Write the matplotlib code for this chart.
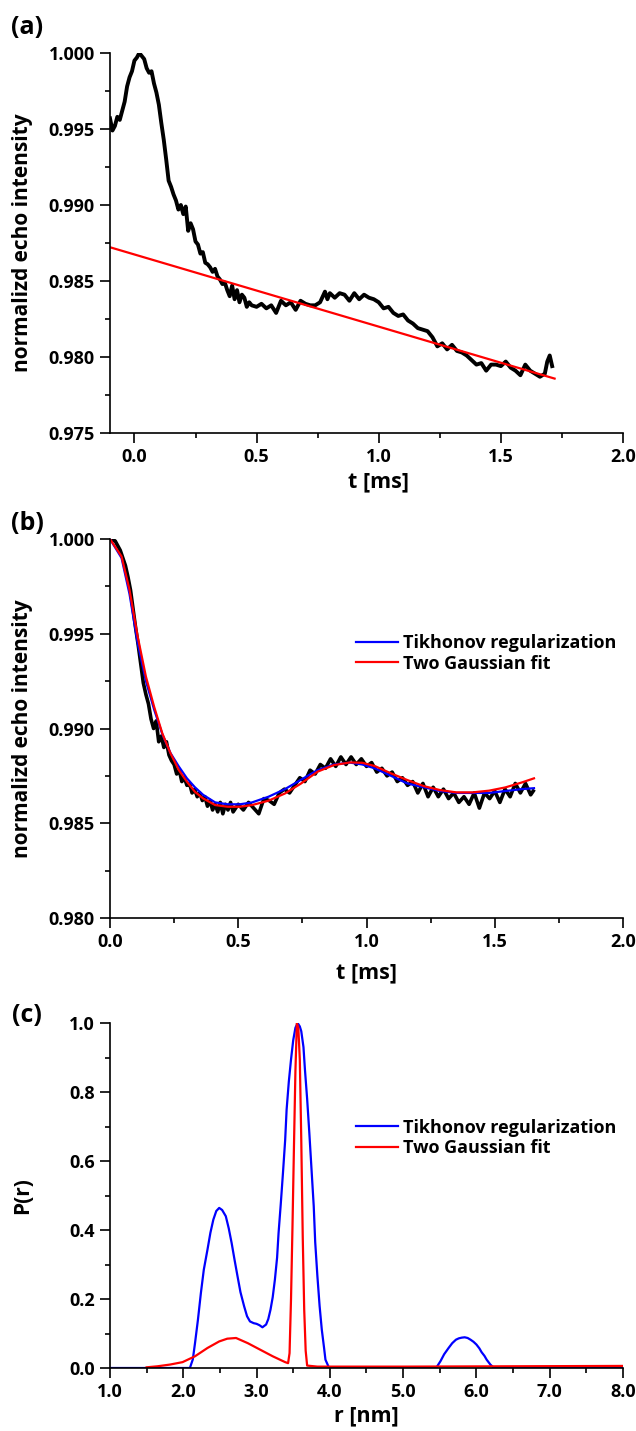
import matplotlib
matplotlib.use("Agg")
import matplotlib.pyplot as plt
from matplotlib.ticker import MultipleLocator, FormatStrFormatter

plt.rcParams['font.family'] = ['Open Sans', 'DejaVu Sans']
plt.rcParams['font.weight'] = 'bold'
plt.rcParams['axes.labelweight'] = 'bold'

# (a) raw echo data and background line
t_a = [-0.10, -0.09, -0.08, -0.07, -0.06, -0.05, -0.04, -0.03, -0.02, -0.01,
       0.00, 0.01, 0.02, 0.03, 0.04, 0.05, 0.06, 0.07, 0.08, 0.09,
       0.10, 0.11, 0.12, 0.13, 0.14, 0.15, 0.16, 0.17, 0.18, 0.19,
       0.20, 0.21, 0.22, 0.23, 0.24, 0.25, 0.26, 0.27, 0.28, 0.29,
       0.30, 0.31, 0.32, 0.33, 0.34, 0.35, 0.36, 0.37, 0.38, 0.39,
       0.40, 0.41, 0.42, 0.43, 0.44, 0.45, 0.46, 0.47, 0.48, 0.50,
       0.52, 0.54, 0.56, 0.58, 0.60, 0.62, 0.64, 0.66, 0.68, 0.70,
       0.72, 0.74, 0.76, 0.78, 0.79, 0.80, 0.82, 0.84, 0.86, 0.88,
       0.90, 0.92, 0.94, 0.96, 0.98, 1.00, 1.02, 1.04, 1.06, 1.08,
       1.10, 1.12, 1.14, 1.16, 1.18, 1.20, 1.22, 1.24, 1.26, 1.28,
       1.30, 1.32, 1.34, 1.36, 1.38, 1.40, 1.42, 1.44, 1.46, 1.48,
       1.50, 1.52, 1.54, 1.56, 1.58, 1.60, 1.62, 1.64, 1.66, 1.68,
       1.69, 1.70, 1.71]
echo_a = [0.9957, 0.9949, 0.9952, 0.9958, 0.9956, 0.9962, 0.9968, 0.9978, 0.9984, 0.9988,
          0.9995, 0.9997, 1.0000, 0.9998, 0.9996, 0.9990, 0.9987, 0.9988, 0.9980, 0.9974,
          0.9966, 0.9954, 0.9943, 0.9930, 0.9916, 0.9912, 0.9907, 0.9903, 0.9897, 0.9900,
          0.9894, 0.9899, 0.9883, 0.9888, 0.9884, 0.9876, 0.9874, 0.9868, 0.9869, 0.9862,
          0.9861, 0.9859, 0.9856, 0.9858, 0.9853, 0.9851, 0.9848, 0.9849, 0.9844, 0.9840,
          0.9847, 0.9838, 0.9844, 0.9836, 0.9841, 0.9839, 0.9833, 0.9836, 0.9834, 0.9833,
          0.9835, 0.9832, 0.9834, 0.9829, 0.9837, 0.9834, 0.9836, 0.9831, 0.9837, 0.9835,
          0.9834, 0.9834, 0.9836, 0.9843, 0.9838, 0.9842, 0.9839, 0.9842, 0.9841, 0.9837,
          0.9842, 0.9838, 0.9841, 0.9839, 0.9838, 0.9836, 0.9832, 0.9833, 0.9829, 0.9827,
          0.9828, 0.9824, 0.9822, 0.9819, 0.9818, 0.9817, 0.9813, 0.9807, 0.9809, 0.9805,
          0.9808, 0.9804, 0.9803, 0.9801, 0.9798, 0.9795, 0.9796, 0.9791, 0.9795, 0.9795,
          0.9794, 0.9797, 0.9793, 0.9791, 0.9788, 0.9795, 0.9791, 0.9789, 0.9787, 0.9789,
          0.9797, 0.9801, 0.9794]
t_bg = [-0.10, 1.72]
bg_a = [0.98722, 0.97858]

# (b) background-corrected data and fits
t_b = [0.00, 0.02, 0.04, 0.05, 0.06, 0.07, 0.08, 0.09, 0.10, 0.11,
       0.12, 0.13, 0.14, 0.15, 0.16, 0.17, 0.18, 0.19, 0.20, 0.21,
       0.22, 0.23, 0.24, 0.25, 0.26, 0.27, 0.28, 0.29, 0.30, 0.31,
       0.32, 0.33, 0.34, 0.35, 0.36, 0.37, 0.38, 0.39, 0.40, 0.41,
       0.42, 0.43, 0.44, 0.45, 0.46, 0.47, 0.48, 0.50, 0.52, 0.54,
       0.56, 0.58, 0.60, 0.62, 0.64, 0.66, 0.68, 0.70, 0.72, 0.74,
       0.76, 0.78, 0.80, 0.82, 0.84, 0.86, 0.88, 0.90, 0.92, 0.94,
       0.96, 0.98, 1.00, 1.02, 1.04, 1.06, 1.08, 1.10, 1.12, 1.14,
       1.16, 1.18, 1.20, 1.22, 1.24, 1.26, 1.28, 1.30, 1.32, 1.34,
       1.36, 1.38, 1.40, 1.42, 1.44, 1.46, 1.48, 1.50, 1.52, 1.54,
       1.56, 1.58, 1.60, 1.62, 1.64, 1.65]
echo_b = [1.0000, 0.9999, 0.9994, 0.9990, 0.9986, 0.9980, 0.9973, 0.9963, 0.9953, 0.9944,
          0.9934, 0.9924, 0.9918, 0.9913, 0.9905, 0.9900, 0.9904, 0.9893, 0.9896, 0.9890,
          0.9893, 0.9886, 0.9883, 0.9881, 0.9876, 0.9878, 0.9872, 0.9874, 0.9870, 0.9871,
          0.9866, 0.9868, 0.9864, 0.9866, 0.9862, 0.9864, 0.9859, 0.9862, 0.9857, 0.9860,
          0.9856, 0.9861, 0.9855, 0.9860, 0.9857, 0.9861, 0.9856, 0.9860, 0.9857, 0.9861,
          0.9858, 0.9855, 0.9863, 0.9862, 0.9860, 0.9866, 0.9868, 0.9866, 0.9870, 0.9874,
          0.9872, 0.9878, 0.9876, 0.9881, 0.9879, 0.9884, 0.9880, 0.9885, 0.9881, 0.9885,
          0.9881, 0.9884, 0.9880, 0.9882, 0.9877, 0.9879, 0.9875, 0.9877, 0.9872, 0.9874,
          0.9870, 0.9872, 0.9866, 0.9871, 0.9864, 0.9869, 0.9864, 0.9868, 0.9863, 0.9866,
          0.9861, 0.9864, 0.9860, 0.9866, 0.9858, 0.9866, 0.9863, 0.9867, 0.9861, 0.9868,
          0.9864, 0.9871, 0.9866, 0.9871, 0.9865, 0.9867]
t_fit = [0.000, 0.045, 0.076, 0.108, 0.140, 0.172, 0.204, 0.236, 0.268, 0.300,
         0.331, 0.363, 0.410, 0.459, 0.506, 0.554, 0.618, 0.682, 0.745, 0.809,
         0.873, 0.936, 0.984, 1.032, 1.096, 1.159, 1.223, 1.287, 1.350, 1.414,
         1.478, 1.541, 1.605, 1.653]
tikh_b = [1.0000, 0.9990, 0.9971, 0.9945, 0.9925, 0.9910, 0.9897, 0.9887, 0.9880, 0.98737,
          0.9869, 0.9865, 0.9861, 0.9860, 0.9860, 0.9861, 0.9864, 0.9868, 0.9873, 0.9878,
          0.9881, 0.9882, 0.9881, 0.9879, 0.9875, 0.9871, 0.9869, 0.9867, 0.9866, 0.9866,
          0.9866, 0.9867, 0.9868, 0.98685]
gauss_b = [1.0000, 0.99908, 0.99732, 0.99485, 0.99274, 0.99115, 0.98974, 0.98869, 0.98781, 0.98719,
           0.98666, 0.98631, 0.98596, 0.98587, 0.98587, 0.98596, 0.98619, 0.98657, 0.98710, 0.98772,
           0.98807, 0.98821, 0.98819, 0.98802, 0.98763, 0.98728, 0.98696, 0.98675, 0.98663, 0.98663,
           0.98672, 0.98689, 0.98715, 0.98737]

# (c) distance distributions
r_tikh = [1.0, 2.09, 2.13, 2.16, 2.20, 2.24, 2.28, 2.33, 2.37, 2.41, 2.45,
          2.49, 2.53, 2.58, 2.62, 2.66, 2.70, 2.74, 2.78, 2.83, 2.87,
          2.91, 2.96, 3.00, 3.04, 3.08, 3.13, 3.16, 3.19, 3.22, 3.25,
          3.28, 3.30, 3.33, 3.36, 3.39, 3.41, 3.44, 3.47, 3.50, 3.53,
          3.56, 3.59, 3.61, 3.64, 3.66, 3.69, 3.72, 3.75, 3.78, 3.80,
          3.83, 3.86, 3.89, 3.92, 3.94, 3.99, 5.45, 5.51, 5.56, 5.62,
          5.67, 5.72, 5.76, 5.80, 5.84, 5.88, 5.92, 5.96, 6.00, 6.04,
          6.07, 6.11, 6.14, 6.19, 6.24, 8.0]
p_tikh = [0.0, 0.0, 0.025, 0.072, 0.140, 0.217, 0.285, 0.343, 0.392, 0.430, 0.455,
          0.464, 0.458, 0.440, 0.405, 0.362, 0.313, 0.266, 0.220, 0.179, 0.150,
          0.135, 0.130, 0.128, 0.124, 0.118, 0.126, 0.142, 0.169, 0.205, 0.256,
          0.320, 0.391, 0.475, 0.565, 0.660, 0.749, 0.830, 0.894, 0.950, 0.986,
          1.0, 0.990, 0.976, 0.930, 0.865, 0.780, 0.681, 0.575, 0.469, 0.365,
          0.266, 0.180, 0.111, 0.060, 0.024, 0.0, 0.0, 0.020, 0.040, 0.058,
          0.072, 0.082, 0.086, 0.088, 0.089, 0.087, 0.082, 0.076, 0.068, 0.057,
          0.046, 0.035, 0.024, 0.010, 0.0, 0.0]
r_gauss = [1.50, 1.65, 1.82, 1.99, 2.16, 2.33, 2.49, 2.60, 2.72, 2.88,
           3.05, 3.22, 3.39, 3.43, 3.45, 3.47, 3.49, 3.51, 3.53, 3.55,
           3.57, 3.59, 3.61, 3.63, 3.65, 3.67, 3.69, 3.83, 5.0, 6.5, 8.0]
p_gauss = [0.002, 0.005, 0.010, 0.017, 0.034, 0.058, 0.077, 0.085, 0.087, 0.072,
           0.053, 0.034, 0.017, 0.014, 0.043, 0.200, 0.410, 0.640, 0.860, 1.0,
           0.985, 0.894, 0.660, 0.380, 0.169, 0.050, 0.007, 0.004, 0.004, 0.005, 0.006]

fig = plt.figure(figsize=(6.36, 14.31), dpi=100)
L, W = 110 / 636, 513 / 636
ax_a = fig.add_axes([L, 1 - 433 / 1431, W, 380 / 1431])
ax_b = fig.add_axes([L, 1 - 918 / 1431, W, 379 / 1431])
ax_c = fig.add_axes([L, 1 - 1368 / 1431, W, 345 / 1431])

ax_a.plot(t_a, echo_a, color='black', lw=2.8)
ax_a.plot(t_bg, bg_a, color='#ff0000', lw=1.6)

ax_b.plot(t_b, echo_b, color='black', lw=2.6)
ax_b.plot(t_fit, tikh_b, color='#0000ff', lw=1.6, label='Tikhonov regularization')
ax_b.plot(t_fit, gauss_b, color='#ff0000', lw=1.6, label='Two Gaussian fit')

ax_c.plot(r_tikh, p_tikh, color='#0000ff', lw=1.6, label='Tikhonov regularization')
ax_c.plot(r_gauss, p_gauss, color='#ff0000', lw=1.6, label='Two Gaussian fit')

ax_a.set_xlim(-0.1, 2.0)
ax_a.set_ylim(0.975, 1.000)
ax_b.set_xlim(0.0, 2.0)
ax_b.set_ylim(0.980, 1.000)
ax_c.set_xlim(1.0, 8.0)
ax_c.set_ylim(0.0, 1.0)

for ax in (ax_a, ax_b):
    ax.xaxis.set_major_locator(MultipleLocator(0.5))
    ax.xaxis.set_minor_locator(MultipleLocator(0.25))
    ax.xaxis.set_major_formatter(FormatStrFormatter('%.1f'))
    ax.yaxis.set_major_locator(MultipleLocator(0.005))
    ax.yaxis.set_minor_locator(MultipleLocator(0.0025))
    ax.yaxis.set_major_formatter(FormatStrFormatter('%.3f'))
    ax.set_xlabel('t [ms]', fontsize=15.5)
    ax.set_ylabel('normalizd echo intensity', fontsize=15)

ax_c.xaxis.set_major_locator(MultipleLocator(1.0))
ax_c.xaxis.set_minor_locator(MultipleLocator(0.5))
ax_c.xaxis.set_major_formatter(FormatStrFormatter('%.1f'))
ax_c.yaxis.set_major_locator(MultipleLocator(0.2))
ax_c.yaxis.set_minor_locator(MultipleLocator(0.1))
ax_c.yaxis.set_major_formatter(FormatStrFormatter('%.1f'))
ax_c.set_xlabel('r [nm]', fontsize=15.5)
ax_c.set_ylabel('P(r)', fontsize=15)

for ax in (ax_a, ax_b, ax_c):
    ax.spines['top'].set_visible(False)
    ax.spines['right'].set_visible(False)
    ax.spines['left'].set_linewidth(1.2)
    ax.spines['bottom'].set_linewidth(1.2)
    ax.tick_params(which='major', direction='out', length=7, width=1.2, labelsize=13, pad=4)
    ax.tick_params(which='minor', direction='out', length=3.5, width=1.2)
    ax.yaxis.set_label_coords(-77 / 513, 0.5)
    ax.xaxis.label.set_va('center')

ax_a.xaxis.set_label_coords(268 / 513, -49 / 380)
ax_b.xaxis.set_label_coords(0.5, -55 / 379)
ax_c.xaxis.set_label_coords(0.5, -48 / 345)

for ax, y in ((ax_b, 0.698), (ax_c, 0.667)):
    ax.legend(loc='center left', bbox_to_anchor=(0.48, y), frameon=False,
              fontsize=13, handlelength=2.3, handletextpad=0.3,
              labelspacing=0.15, borderpad=0, borderaxespad=0)

fig.text(27 / 636, 1 - 28 / 1431, '(a)', fontsize=18, ha='center', va='center')
fig.text(27 / 636, 1 - 523 / 1431, '(b)', fontsize=18, ha='center', va='center')
fig.text(27 / 636, 1 - 1015 / 1431, '(c)', fontsize=18, ha='center', va='center')

fig.savefig('out.png', dpi=100)
